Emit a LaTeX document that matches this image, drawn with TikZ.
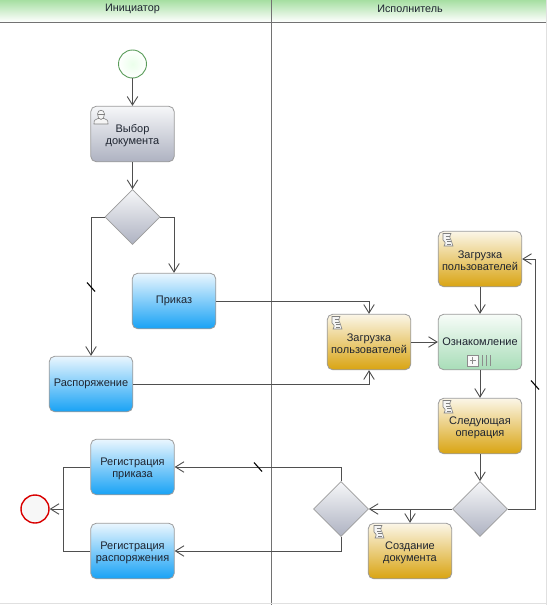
\documentclass[tikz,border=0pt]{standalone}
\usepackage{fontspec}
\setmainfont{Liberation Sans}
\usetikzlibrary{arrows.meta,shapes.geometric,calc}
\definecolor{linec}{HTML}{4F4F4F}
\definecolor{edgec}{HTML}{9C9C9C}
\definecolor{txt}{HTML}{1E2430}
\definecolor{goldT}{HTML}{FBF6E8}\definecolor{goldM}{HTML}{EDD490}\definecolor{goldB}{HTML}{D9A412}
\definecolor{blueT}{HTML}{EAF6FE}\definecolor{blueM}{HTML}{80CBF9}\definecolor{blueB}{HTML}{18A2F5}
\definecolor{greenT}{HTML}{F7FCF8}\definecolor{greenM}{HTML}{D8F0DF}\definecolor{greenB}{HTML}{A8DDB8}
\definecolor{grayT}{HTML}{F6F7F9}\definecolor{grayM}{HTML}{DDDFE5}\definecolor{grayB}{HTML}{AEB2C1}
\definecolor{headT}{HTML}{A6DFA2}
\newcommand{\lowfirst}{\rule{0pt}{10.5pt}}
\tikzset{
  taskbox/.style={rectangle,rounded corners=5.5pt,minimum width=83.5pt,minimum height=55.5pt,inner sep=0pt,draw=edgec,line width=.8pt,align=center,font=\fontsize{11}{12.2}\selectfont,text=txt},
  graytask/.style={taskbox,top color=grayT,middle color=grayM,bottom color=grayB},
  goldtask/.style={taskbox,top color=goldT,middle color=goldM,bottom color=goldB},
  bluetask/.style={taskbox,top color=blueT,middle color=blueM,bottom color=blueB},
  greentask/.style={taskbox,top color=greenT,middle color=greenM,bottom color=greenB},
  gateway/.style={diamond,minimum width=55pt,minimum height=55pt,inner sep=0pt,draw=edgec,line width=.6pt,top color=grayT,bottom color=grayB},
  startev/.style={circle,minimum size=28pt,inner sep=0pt,draw=green!40!black!65,line width=.9pt,inner color=green!8!white,outer color=white},
  endev/.style={circle,minimum size=28pt,inner sep=0pt,draw=red!85!black,line width=1.4pt,fill=black!3},
  flow/.style={draw=linec,line width=1pt,-{Straight Barb[length=8.5pt,width=10.5pt,line width=.9pt]}},
  plainflow/.style={draw=linec,line width=1pt},
  slashmark/.style={draw=black,line width=1.1pt},
  lane/.style={draw=linec!80,line width=1pt},
  lanehead/.style={font=\fontsize{10.8}{12}\selectfont,text=txt},
  icon/.style={draw=black!50,line width=.6pt,fill=white!92!gray},
  script/.pic={
    \path[icon] (-4,-6.5) .. controls (-2,-7.5) and (1,-5.5) .. (4,-6.5) .. controls (2,-3) and (3,-1) .. (4,0) -- (6,6) .. controls (3,7) and (0,5) .. (-3,6) .. controls (-1,3) and (-2,1) .. (-4,0) -- cycle;
    \draw[icon,fill=none] (-1.5,-3.5)--(2.5,-3.5) (-1,-1)--(2.5,-1) (0,1.5)--(3.5,1.5) (0,4)--(3.5,4);
  },
  userpic/.pic={
    \path[icon] (-7,7) .. controls (-7.5,3) and (-5,2) .. (-3,1.5) -- (3,1.5) .. controls (5,2) and (7.5,3) .. (7,7) -- cycle;
    \path[icon] (-3.5,-3) .. controls (-3.5,-8) and (3.5,-8) .. (3.5,-3) .. controls (3.5,0) and (2,2.5) .. (0,2.5) .. controls (-2,2.5) and (-3.5,0) .. (-3.5,-3) -- cycle;
    \draw[icon,fill=none] (-3.5,-3)--(3.5,-3);
  }
}
\begin{document}
\begin{tikzpicture}[x=1pt,y=-1pt]
\useasboundingbox (0,0) rectangle (548,605);
\path[fill=white] (0,0) rectangle (548,605);
% swimlanes
\path[top color=headT,bottom color=white] (0,0) rectangle (271,22);
\path[top color=headT,bottom color=white] (272,0) rectangle (546,22);
\coordinate (laneTopL) at (0,22.5);
\coordinate (laneTopR) at (546,22.5);
\coordinate (laneDivT) at (271.5,0);
\coordinate (laneDivB) at (271.5,605);
\coordinate (laneEdgeT) at (546.5,0);
\coordinate (laneEdgeB) at (546.5,605);
\draw[lane] (laneTopL) -- (laneTopR);
\draw[lane] (laneDivT) -- (laneDivB);
\draw[draw=black!12,line width=.6pt] (laneEdgeT) -- (laneEdgeB);
\draw[draw=black!12,line width=.6pt] (0,603.5) -- (546,603.5);
\node[lanehead] (h1) at (132.5,8.5) {Инициатор};
\node[lanehead] (h2) at (410,8.5) {Исполнитель};
% nodes
\node[startev] (start) at (132.5,64) {};
\node[graytask] (choose) at (132.5,134) {\lowfirst Выбор\\документа};
\node[gateway] (g1) at (132.5,217) {};
\node[bluetask] (prikaz) at (174,301) {Приказ};
\node[bluetask] (rasp) at (91,384) {Распоряжение};
\node[goldtask] (loadL) at (369,342) {\lowfirst Загрузка\\пользователей};
\node[goldtask] (loadT) at (480,259) {\lowfirst Загрузка\\пользователей};
\node[greentask] (ozn) at (480,342) {Ознакомление};
\node[goldtask] (next) at (480,426) {\lowfirst Следующая\\операция};
\node[gateway] (g2) at (480,509) {};
\node[gateway] (g3) at (341,509) {};
\node[goldtask] (create) at (410,551) {\lowfirst Создание\\документа};
\node[bluetask] (regP) at (132.5,467) {\lowfirst Регистрация\\приказа};
\node[bluetask] (regR) at (132.5,551) {\lowfirst Регистрация\\распоряжения};
\node[endev] (endn) at (35,509) {};
% icons
\pic at (101,117) {userpic};
\pic at (336,323) {script};
\pic at (447,240) {script};
\pic at (447,407) {script};
\pic at (378,532) {script};
% multi-instance marker
\draw[draw=black!45,line width=.7pt,fill=white!95!gray] ($(ozn.south)+(-12.5,-15)$) rectangle ($(ozn.south)+(-2,-4)$);
\draw[draw=black!45,line width=.7pt] ($(ozn.south)+(-10,-9.5)$) -- ($(ozn.south)+(-4.5,-9.5)$) ($(ozn.south)+(-7.2,-13)$) -- ($(ozn.south)+(-7.2,-6)$);
\draw[draw=black!45,line width=.9pt] ($(ozn.south)+(2,-15)$) -- ($(ozn.south)+(2,-4)$) ($(ozn.south)+(6,-15)$) -- ($(ozn.south)+(6,-4)$) ($(ozn.south)+(10.5,-15)$) -- ($(ozn.south)+(10.5,-4)$);
% connectors
\draw[flow] (start) -- (choose);
\draw[flow] (choose) -- (g1);
\draw[flow] (g1.west) -| (rasp.north);
\draw[flow] (g1.east) -| (prikaz.north);
\draw[flow] (prikaz.east) -| (loadL.north);
\draw[flow] (rasp.east) -| (loadL.south);
\draw[flow] (loadL) -- (ozn);
\draw[flow] (loadT) -- (ozn);
\draw[flow] (ozn) -- (next);
\draw[flow] (next) -- (g2);
\coordinate (loopC) at (535,509);
\draw[flow] (g2.east) -- (loopC) |- (loadT.east);
\draw[flow] (g2.west) -- (g3.east);
\coordinate (branch) at (create.north |- g2.west);
\draw[flow] (branch) -- (create.north);
\draw[flow] (g3.north) |- (regP.east);
\draw[flow] (g3.south) |- (regR.east);
\coordinate (merge) at (63,509);
\draw[plainflow] (regP.west) -| (merge);
\draw[plainflow] (regR.west) -| (merge);
\draw[flow] (merge) -- (endn.east);
% slash marks
\coordinate (s1) at (91,287);
\coordinate (s2) at (535,385);
\coordinate (s3) at (258,467);
\foreach \s in {s1,s2,s3}{\draw[slashmark] ($(\s)+(-4,-4.5)$) -- ($(\s)+(4,4.5)$);}
\end{tikzpicture}
\end{document}
